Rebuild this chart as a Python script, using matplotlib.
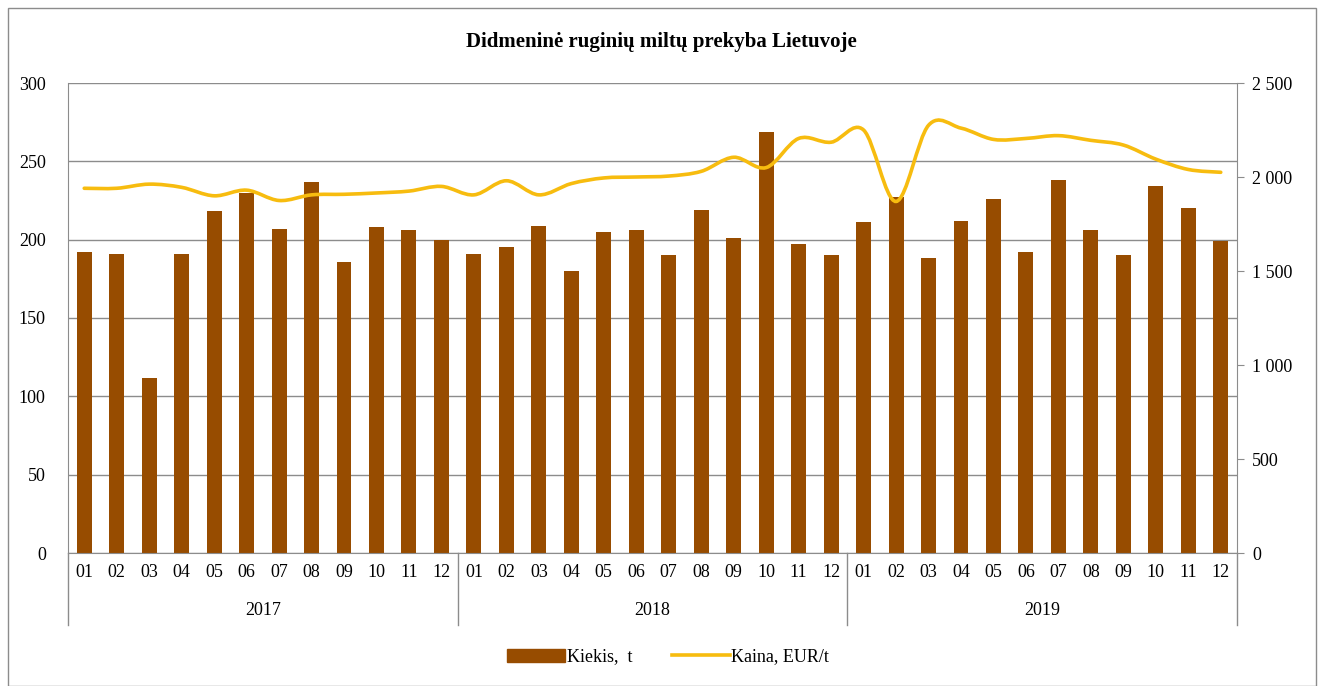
import numpy as np
import matplotlib.pyplot as plt
from matplotlib.path import Path
from matplotlib.patches import PathPatch, Rectangle
from matplotlib.lines import Line2D
from matplotlib.ticker import FuncFormatter
import matplotlib.transforms as mtransforms

plt.rcParams['font.family'] = ['Liberation Serif', 'DejaVu Serif']

metai = ['2017', '2018', '2019']
menesiai = ['01', '02', '03', '04', '05', '06', '07', '08', '09', '10', '11', '12']

kiekis = [192, 191, 112, 191, 218, 230, 207, 237, 186, 208, 206, 200,
          191, 195, 209, 180, 205, 206, 190, 219, 201, 269, 197, 190,
          211, 227, 188, 212, 226, 192, 238, 206, 190, 234, 220, 199]

kaina = [1940, 1940, 1962, 1945, 1900, 1930, 1875, 1905, 1908, 1915, 1925, 1950,
         1905, 1980, 1905, 1965, 1995, 2000, 2005, 2030, 2105, 2050, 2205, 2185,
         2250, 1870, 2275, 2260, 2200, 2205, 2220, 2195, 2170, 2095, 2040, 2025]

spalva_stulp = '#974C00'
spalva_linija = '#F7BC0F'
fs = 13

fig = plt.figure(figsize=(13.23, 6.86), dpi=100)
ax = fig.add_axes([68 / 1323, 1 - 553 / 686, (1237 - 68) / 1323, (553 - 83) / 686])
ax2 = ax.twinx()

x = np.arange(len(kiekis))
ax.bar(x, kiekis, width=0.46, color=spalva_stulp, zorder=2)

# glotni linija (Catmull-Rom -> Bezier), kaip Excel "smoothed line"
y = np.array(kaina, dtype=float)
verts = [(x[0], y[0])]
codes = [Path.MOVETO]
for i in range(len(x) - 1):
    x0, y0 = (x[i - 1], y[i - 1]) if i > 0 else (x[i], y[i])
    x3, y3 = (x[i + 2], y[i + 2]) if i + 2 < len(x) else (x[i + 1], y[i + 1])
    c1 = (x[i] + (x[i + 1] - x0) / 6, y[i] + (y[i + 1] - y0) / 6)
    c2 = (x[i + 1] - (x3 - x[i]) / 6, y[i + 1] - (y3 - y[i]) / 6)
    verts += [c1, c2, (x[i + 1], y[i + 1])]
    codes += [Path.CURVE4] * 3
ax2.add_patch(PathPatch(Path(verts, codes), facecolor='none', edgecolor=spalva_linija,
                        lw=2.6, capstyle='round', zorder=3))

ax.set_xlim(-0.5, len(x) - 0.5)
ax.set_ylim(0, 300)
ax.set_yticks(range(0, 301, 50))
ax2.set_ylim(0, 2500)
ax2.set_yticks(range(0, 2501, 500))
ax2.yaxis.set_major_formatter(FuncFormatter(lambda v, p: f'{int(v):,}'.replace(',', ' ')))

ax.grid(axis='y', color='#8C8C8C', lw=1)
ax.set_axisbelow(True)
for a in (ax, ax2):
    for s in ('top', 'bottom', 'left', 'right'):
        a.spines[s].set_visible(False)
ax.spines['left'].set_visible(True)
ax.spines['left'].set_color('#8C8C8C')
ax.spines['bottom'].set_visible(True)
ax.spines['bottom'].set_color('#8C8C8C')
ax2.spines['right'].set_visible(True)
ax2.spines['right'].set_color('#8C8C8C')

ax.tick_params(axis='y', length=0, pad=16, labelsize=fs)
ax2.tick_params(axis='y', length=5, color='#8C8C8C', pad=6, labelsize=fs)
ax.set_xticks(x)
ax.set_xticklabels(menesiai * len(metai))
ax.tick_params(axis='x', length=0, pad=8, labelsize=fs)

trans = mtransforms.blended_transform_factory(ax.transData, ax.transAxes)
for k in range(len(metai) + 1):
    xs = k * 12 - 0.5
    ax.plot([xs, xs], [0, -0.153], transform=trans, color='#8C8C8C', lw=1, clip_on=False)
for k, m in enumerate(metai):
    ax.text(k * 12 + 5.5, -0.122, m, transform=trans, ha='center', va='center', fontsize=fs)

fig.text(0.5, 1 - 42 / 686, 'Didmeninė ruginių miltų prekyba Lietuvoje', ha='center', va='center',
         fontsize=15, fontweight='bold')

handles = [Rectangle((0, 0), 1, 1, color=spalva_stulp), Line2D([], [], color=spalva_linija, lw=2.6)]
fig.legend(handles, ['Kiekis,  t', 'Kaina, EUR/t'], loc='center', bbox_to_anchor=(0.505, 1 - 657 / 686),
           ncol=2, frameon=False, fontsize=fs, handlelength=3.2, handletextpad=0.1, columnspacing=2.2)

fig.patches.append(Rectangle((8 / 1323, 0), 1308 / 1323, 1 - 8 / 686, transform=fig.transFigure,
                             fill=False, edgecolor='#8C8C8C', lw=1))

fig.savefig('out.png', dpi=100)
